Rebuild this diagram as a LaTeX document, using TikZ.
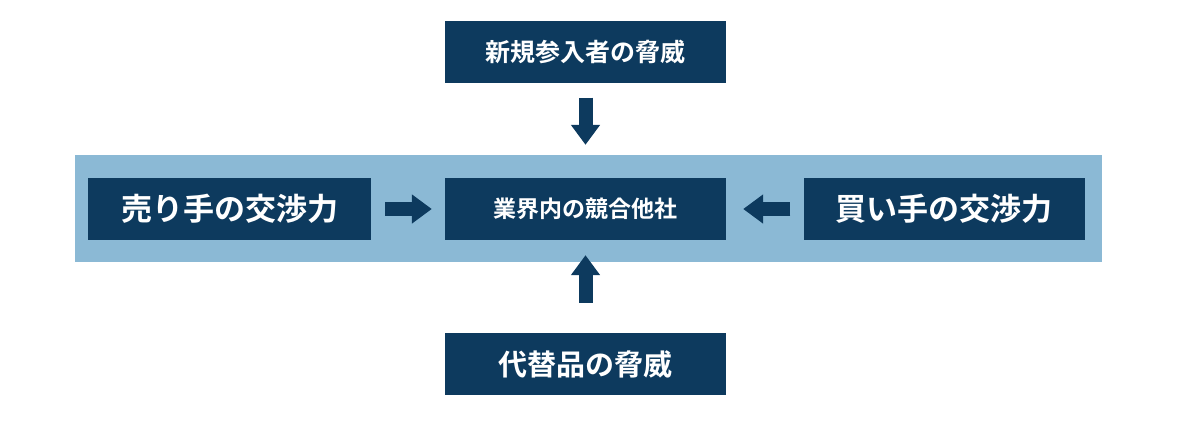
\documentclass[tikz,border=0pt]{standalone}
\usepackage{fontspec}
\newfontfamily\cjk{Noto Sans CJK JP}[UprightFont=* Bold]
\usetikzlibrary{arrows.meta}
\definecolor{navy}{HTML}{0D3A5E}
\definecolor{band}{HTML}{8BB9D5}
\begin{document}
\begin{tikzpicture}[x=1pt,y=-1pt,
  box/.style={fill=navy,text=white,minimum width=281pt,minimum height=62pt,inner sep=0pt,font=\cjk},
  arr/.style={draw=navy,line width=14pt,-{Triangle[width=28pt,length=20pt]}}]
\useasboundingbox (0,0) rectangle (1200,421);
\fill[band] (75,155) rectangle (1102,262);
\node[box,font=\cjk\fontsize{25}{25}\selectfont] (top) at (585.5,51.5) {新規参入者の脅威};
\node[box,font=\cjk\fontsize{23}{23}\selectfont] (mid) at (585.5,209) {業界内の競合他社};
\node[box,minimum width=283pt,font=\cjk\fontsize{31}{31}\selectfont] (left) at (229.5,209) {売り手の交渉力};
\node[box,font=\cjk\fontsize{31}{31}\selectfont] (right) at (944,209) {買い手の交渉力};
\node[box,font=\cjk\fontsize{29}{29}\selectfont] (bot) at (585.5,364) {代替品の脅威};
\draw[arr,shorten <=15pt,shorten >=33pt] (top) -- (mid);
\draw[arr,shorten <=30pt,shorten >=15pt] (bot) -- (mid);
\draw[arr,shorten <=14pt,shorten >=13pt] (left) -- (mid);
\draw[arr,shorten <=13pt,shorten >=17pt] (right) -- (mid);
\end{tikzpicture}
\end{document}
